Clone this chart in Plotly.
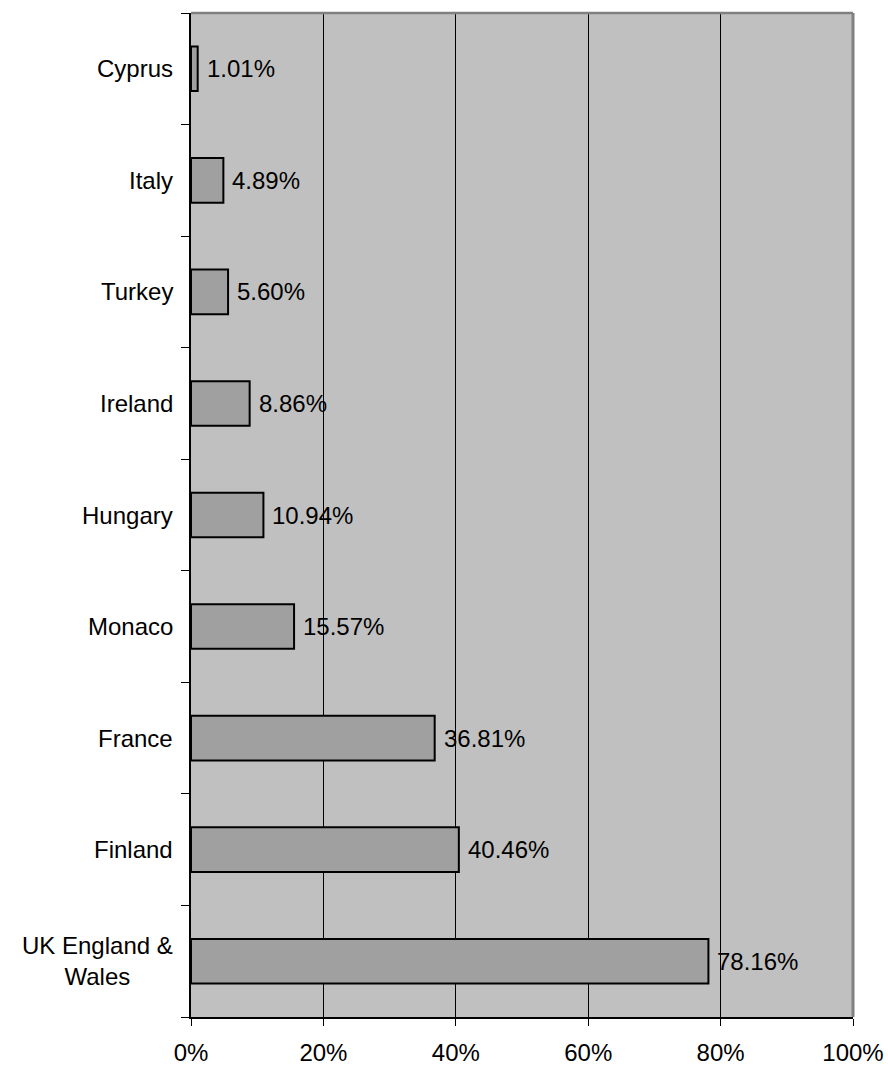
import plotly.graph_objects as go

# Share by country, listed top to bottom
countries = ["Cyprus", "Italy", "Turkey", "Ireland", "Hungary", "Monaco",
             "France", "Finland", "UK England &<br>Wales"]
shares = [1.01, 4.89, 5.60, 8.86, 10.94, 15.57, 36.81, 40.46, 78.16]
x_ticks = [0, 20, 40, 60, 80, 100]

FONT = "Liberation Sans, Arial, sans-serif"
SIZE = 24

fig = go.Figure()
fig.add_trace(go.Bar(
    x=[v / 100 for v in shares],
    y=list(range(len(countries))),
    orientation="h",
    width=0.4,
    marker=dict(color="#a0a0a0", line=dict(color="black", width=2)),
    hoverinfo="skip",
))

# value labels to the right of each bar
for i, v in enumerate(shares):
    fig.add_annotation(x=v / 100, y=i, xref="x", yref="y",
                       text=f"{v:.2f}%", showarrow=False,
                       xanchor="left", yanchor="middle", xshift=7,
                       font=dict(family=FONT, size=SIZE, color="black"))

# category labels left of the axis
for i, name in enumerate(countries):
    fig.add_annotation(x=0, y=i, xref="paper", yref="y",
                       text=name, showarrow=False, align="center",
                       xanchor="right", yanchor="middle", xshift=-16,
                       font=dict(family=FONT, size=SIZE, color="black"))

# plot-area frame: grey top/right edges
fig.add_shape(type="line", xref="paper", yref="paper", x0=0, x1=1, y0=1, y1=1,
              line=dict(color="#808080", width=2.5), layer="above")
fig.add_shape(type="line", xref="paper", yref="paper", x0=1, x1=1, y0=0, y1=1,
              line=dict(color="#808080", width=3), layer="above")

fig.update_layout(
    width=888, height=1068,
    margin=dict(l=191, r=35, t=13, b=51, autoexpand=False),
    paper_bgcolor="white",
    plot_bgcolor="#c0c0c0",
    showlegend=False,
    font=dict(family=FONT, size=SIZE, color="black"),
    xaxis=dict(range=[0, 1], tickvals=[t / 100 for t in x_ticks],
               ticktext=[f"{t}%" for t in x_ticks],
               showgrid=True, gridcolor="black", gridwidth=1,
               showline=True, linecolor="black", linewidth=1.5,
               ticks="outside", ticklen=7, tickcolor="black", tickwidth=1,
               ticklabelstandoff=6, automargin=False,
               zeroline=False, fixedrange=True),
    yaxis=dict(range=[len(countries) - 0.5, -0.5],
               tickvals=[i - 0.5 for i in range(len(countries) + 1)],
               showticklabels=False, showgrid=False,
               showline=True, linecolor="black", linewidth=1.5,
               ticks="outside", ticklen=8, tickcolor="black", tickwidth=1,
               automargin=False,
               zeroline=False, fixedrange=True),
)

fig.write_html("out.html")
